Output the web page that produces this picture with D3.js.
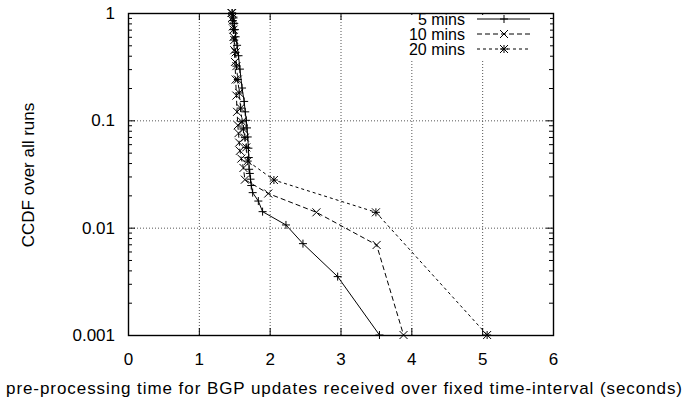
<!DOCTYPE html>
<html>
<head>
<meta charset="utf-8">
<script src="https://cdn.jsdelivr.net/npm/d3@7"></script>
<style>
  body { margin: 0; background: #fff; }
  svg { display: block; font-family: "Liberation Sans", Arial, sans-serif; }
</style>
</head>
<body>
<div id="chart"></div>
<script>
// data
const xTicks = [0, 1, 2, 3, 4, 5, 6];
const yTicks = [1, 0.1, 0.01, 0.001];
const yTickLabels = ['1', '0.1', '0.01', '0.001'];

const fiveX = [1.47, 1.49, 1.50, 1.51, 1.52, 1.54, 1.56, 1.58, 1.61, 1.64, 1.655, 1.67, 1.68, 1.69, 1.70, 1.705, 1.71, 1.72, 1.73, 1.74, 1.76, 1.84, 1.90, 2.23, 2.47, 2.96, 3.55];
const fiveY = [1.0, 0.9, 0.8, 0.7, 0.6, 0.5, 0.4, 0.3, 0.2, 0.15, 0.12, 0.1, 0.085, 0.07, 0.055, 0.045, 0.035, 0.032, 0.0283, 0.0247, 0.0212, 0.0177, 0.0141, 0.0106, 0.0071, 0.0035, 0.001];

const tenX = [1.46, 1.47, 1.48, 1.49, 1.50, 1.51, 1.52, 1.53, 1.54, 1.55, 1.56, 1.57, 1.58, 1.60, 1.63, 1.65, 1.98, 2.66, 3.51, 3.89];
const tenY = [1.0, 0.9, 0.75, 0.6, 0.45, 0.35, 0.24, 0.17, 0.12, 0.09, 0.076, 0.062, 0.052, 0.044, 0.036, 0.028, 0.0208, 0.0139, 0.0069, 0.001];

const twentyX = [1.47, 1.48, 1.49, 1.50, 1.52, 1.53, 1.55, 1.57, 1.59, 1.61, 1.63, 1.65, 1.67, 1.69, 2.06, 3.50, 5.07];
const twentyY = [1.0, 0.85, 0.7, 0.56, 0.43, 0.32, 0.24, 0.18, 0.13, 0.097, 0.083, 0.069, 0.056, 0.0417, 0.0278, 0.0139, 0.001];

const seriesNames = ['5 mins', '10 mins', '20 mins'];

const width = 688, height = 397;
const margin = { top: 13, right: 135, bottom: 62, left: 128 };
const plotW = width - margin.left - margin.right;
const plotH = height - margin.top - margin.bottom;

const svg = d3.select('#chart').append('svg')
  .attr('width', width)
  .attr('height', height);

const g = svg.append('g')
  .attr('transform', `translate(${margin.left},${margin.top})`);

const x = d3.scaleLinear().domain([0, 6]).range([0, plotW]);
const y = d3.scaleLog().domain([0.001, 1]).range([plotH, 0]);

const series = [
  { name: seriesNames[0], xs: fiveX, ys: fiveY, dash: null, marker: 'plus' },
  { name: seriesNames[1], xs: tenX, ys: tenY, dash: '5,3', marker: 'cross' },
  { name: seriesNames[2], xs: twentyX, ys: twentyY, dash: '3,3', marker: 'star' }
];

// grid (dotted), only inside the frame
const grid = g.append('g').attr('class', 'grid');
grid.selectAll('line.gx')
  .data(xTicks.filter(d => d > 0 && d < 6))
  .enter().append('line')
  .attr('class', 'gx')
  .attr('x1', d => x(d) + 0.5).attr('x2', d => x(d) + 0.5)
  .attr('y1', 0).attr('y2', plotH)
  .attr('stroke', '#555').attr('stroke-dasharray', '1,2');
grid.selectAll('line.gy')
  .data(yTicks.filter(d => d > 0.001 && d < 1))
  .enter().append('line')
  .attr('class', 'gy')
  .attr('x1', 0).attr('x2', plotW)
  .attr('y1', d => y(d) + 0.5).attr('y2', d => y(d) + 0.5)
  .attr('stroke', '#555').attr('stroke-dasharray', '1,2');

// axes: gnuplot style inward ticks, mirrored
const minor = [];
[0.001, 0.01, 0.1].forEach(dec => {
  for (let k = 2; k <= 9; k++) minor.push(dec * k);
});

function styleAxis(sel) {
  sel.select('.domain').remove();
  sel.selectAll('.tick line').attr('stroke', '#000');
  sel.selectAll('.tick text')
    .attr('font-size', 17)
    .attr('fill', '#000')
    .attr('font-family', '"Liberation Sans", Arial, sans-serif');
}

g.append('g')
  .attr('transform', `translate(0,${plotH})`)
  .call(d3.axisBottom(x).tickValues(xTicks).tickFormat(d3.format('d')).tickSizeInner(-7).tickPadding(18))
  .call(styleAxis);

g.append('g')
  .call(d3.axisTop(x).tickValues(xTicks).tickFormat('').tickSizeInner(-7))
  .call(styleAxis);

g.append('g')
  .call(d3.axisLeft(y).tickValues(yTicks).tickFormat((d, i) => yTickLabels[i]).tickSizeInner(-7).tickPadding(13))
  .call(styleAxis);

g.append('g')
  .call(d3.axisLeft(y).tickValues(minor).tickFormat('').tickSizeInner(-4))
  .call(styleAxis);

g.append('g')
  .attr('transform', `translate(${plotW},0)`)
  .call(d3.axisRight(y).tickValues(yTicks).tickFormat('').tickSizeInner(-7))
  .call(styleAxis);

g.append('g')
  .attr('transform', `translate(${plotW},0)`)
  .call(d3.axisRight(y).tickValues(minor).tickFormat('').tickSizeInner(-4))
  .call(styleAxis);

// frame
g.append('rect')
  .attr('x', 0.5).attr('y', 0.5)
  .attr('width', plotW).attr('height', plotH)
  .attr('fill', 'none').attr('stroke', '#000').attr('stroke-width', 1.4);

// markers
function drawMarker(sel, type, s) {
  const p = d3.path();
  if (type === 'plus' || type === 'star') {
    p.moveTo(-s, 0); p.lineTo(s, 0);
    p.moveTo(0, -s); p.lineTo(0, s);
  }
  if (type === 'cross' || type === 'star') {
    p.moveTo(-s, -s); p.lineTo(s, s);
    p.moveTo(-s, s); p.lineTo(s, -s);
  }
  sel.append('path').attr('d', p.toString())
    .attr('stroke', '#000').attr('stroke-width', 1).attr('fill', 'none');
}

const line = d3.line().x(d => x(d[0])).y(d => y(d[1]));

// legend box (opaque, no border) sits over the grid
const legend = g.append('g').attr('class', 'legend');
legend.append('rect')
  .attr('x', 255).attr('y', 2)
  .attr('width', plotW - 258).attr('height', 44)
  .attr('fill', '#fff');

series.forEach((s, i) => {
  const pts = s.xs.map((v, j) => [v, s.ys[j]]);
  g.append('path')
    .datum(pts)
    .attr('d', line)
    .attr('fill', 'none')
    .attr('stroke', '#000')
    .attr('stroke-width', 1)
    .attr('stroke-dasharray', s.dash);

  pts.forEach(p => {
    const m = g.append('g').attr('transform', `translate(${x(p[0])},${y(p[1])})`);
    drawMarker(m, s.marker, 4);
  });

  const ly = 6 + i * 15;
  legend.append('text')
    .attr('x', 337).attr('y', ly)
    .attr('dy', '0.35em')
    .attr('text-anchor', 'end')
    .attr('font-size', 16)
    .text(s.name);
  legend.append('line')
    .attr('x1', 349).attr('x2', 402)
    .attr('y1', ly).attr('y2', ly)
    .attr('stroke', '#000').attr('stroke-width', 1)
    .attr('stroke-dasharray', s.dash);
  const lm = legend.append('g').attr('transform', `translate(376,${ly})`);
  drawMarker(lm, s.marker, 4);
});

// axis titles
svg.append('text')
  .attr('x', 344)
  .attr('y', 388)
  .attr('dy', '0.35em')
  .attr('text-anchor', 'middle')
  .attr('font-size', 17)
  .attr('textLength', 676)
  .attr('lengthAdjust', 'spacing')
  .text('pre-processing time for BGP updates received over fixed time-interval (seconds)');

svg.append('text')
  .attr('transform', 'translate(28,175) rotate(-90)')
  .attr('dy', '0.35em')
  .attr('text-anchor', 'middle')
  .attr('font-size', 17)
  .text('CCDF over all runs');
</script>
</body>
</html>
